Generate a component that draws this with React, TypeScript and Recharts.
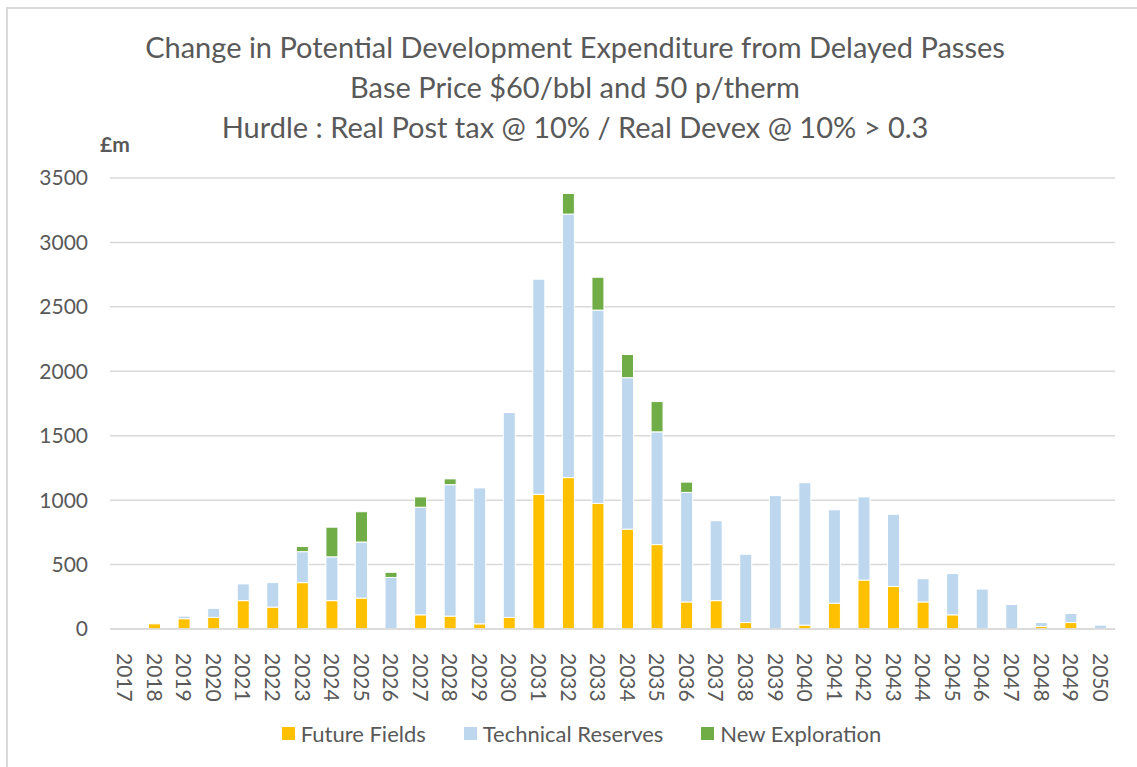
import { BarChart, Bar, XAxis, YAxis, CartesianGrid, Legend } from "recharts";

const years = [
  "2017", "2018", "2019", "2020", "2021", "2022", "2023", "2024", "2025", "2026",
  "2027", "2028", "2029", "2030", "2031", "2032", "2033", "2034", "2035", "2036",
  "2037", "2038", "2039", "2040", "2041", "2042", "2043", "2044", "2045", "2046",
  "2047", "2048", "2049", "2050",
];

const futureFields = [
  0, 40, 80, 90, 220, 170, 360, 220, 240, 0,
  110, 100, 40, 90, 1045, 1175, 975, 775, 655, 210,
  220, 50, 0, 30, 200, 380, 330, 210, 110, 0,
  0, 20, 50, 0,
];

const technicalReserves = [
  0, 0, 20, 70, 130, 190, 240, 340, 435, 400,
  835, 1020, 1055, 1590, 1670, 2045, 1500, 1175, 875, 850,
  620, 530, 1035, 1105, 725, 645, 560, 180, 320, 310,
  190, 30, 70, 30,
];

const newExploration = [
  0, 0, 0, 0, 0, 0, 40, 230, 235, 40,
  80, 45, 0, 0, 0, 160, 255, 180, 235, 80,
  0, 0, 0, 0, 0, 0, 0, 0, 0, 0,
  0, 0, 0, 0,
];

const seriesNames = ["Future Fields", "Technical Reserves", "New Exploration"];

const yTicks = [0, 500, 1000, 1500, 2000, 2500, 3000, 3500];

const titleLines = [
  "Change in Potential Development Expenditure from Delayed Passes",
  "Base Price $60/bbl and 50 p/therm",
  "Hurdle : Real Post tax @ 10% / Real Devex @ 10% > 0.3",
];

const data = years.map((year, i) => ({
  year,
  ff: futureFields[i],
  tr: technicalReserves[i],
  ne: newExploration[i],
}));

const FONT = "Lato, 'Open Sans', sans-serif";
const TEXT = "#595959";
const GRID = "#d9d9d9";

const YearTick = (props: any) => {
  const { x, y, payload } = props;
  return (
    <g transform={`translate(${x},${y})`}>
      <text
        transform="rotate(90)"
        x={0}
        y={0}
        dx={16}
        dy="0.36em"
        textAnchor="start"
        fill={TEXT}
        fontSize={21}
        fontFamily={FONT}
      >
        {payload.value}
      </text>
    </g>
  );
};

const LegendBox = (props: any) => {
  const items = [...(props.payload || [])].sort(
    (a: any, b: any) => seriesNames.indexOf(a.value) - seriesNames.indexOf(b.value)
  );
  return (
    <div
      style={{
        height: 28,
        display: "flex",
        justifyContent: "center",
        alignItems: "center",
        paddingLeft: 48,
        fontFamily: FONT,
        fontSize: 22,
        color: TEXT,
      }}
    >
      {items.map((entry: any, index: number) => (
        <div key={index} style={{ display: "flex", alignItems: "center", marginRight: index < items.length - 1 ? 38 : 0 }}>
          <div style={{ width: 13, height: 13, backgroundColor: entry.color, marginRight: 6 }} />
          <span>{entry.value}</span>
        </div>
      ))}
    </div>
  );
};

export default function App() {
  return (
    <div style={{ position: "absolute", left: 0, top: 0, width: 1137, height: 767, background: "#fff", overflow: "hidden" }}>
      <div
        style={{
          position: "absolute",
          left: 6,
          top: 7,
          width: 1200,
          height: 800,
          border: `2px solid ${GRID}`,
        }}
      />
      {titleLines.map((line, i) => (
        <div
          key={i}
          style={{
            position: "absolute",
            left: 0,
            width: 1150,
            top: 29 + i * 40,
            textAlign: "center",
            fontFamily: FONT,
            fontSize: 29,
            lineHeight: "36px",
            color: TEXT,
          }}
        >
          {line}
        </div>
      ))}
      <div
        style={{
          position: "absolute",
          left: 100,
          top: 131,
          fontFamily: FONT,
          fontSize: 21,
          fontWeight: "bold",
          color: TEXT,
        }}
      >
        £m
      </div>
      <div style={{ position: "absolute", left: 0, top: 0 }}>
        <BarChart
          width={1137}
          height={767}
          data={data}
          margin={{ top: 178, right: 22, left: 0, bottom: 20 }}
          barSize={12}
        >
          <CartesianGrid vertical={false} stroke={GRID} strokeWidth={1.5} />
          <XAxis
            dataKey="year"
            interval={0}
            height={90}
            tickLine={false}
            axisLine={{ stroke: GRID, strokeWidth: 1.5 }}
            tick={<YearTick />}
          />
          <YAxis
            width={110}
            domain={[0, 3500]}
            ticks={yTicks}
            tickLine={false}
            axisLine={false}
            tickSize={0}
            tickMargin={22}
            tick={{ fill: TEXT, fontSize: 21, fontFamily: FONT }}
          />
          <Legend verticalAlign="bottom" content={<LegendBox />} />
          <Bar dataKey="ff" name="Future Fields" stackId="a" fill="#FFC000" stroke="#fff" strokeWidth={1} isAnimationActive={false} />
          <Bar dataKey="tr" name="Technical Reserves" stackId="a" fill="#BDD7EE" stroke="#fff" strokeWidth={1} isAnimationActive={false} />
          <Bar dataKey="ne" name="New Exploration" stackId="a" fill="#70AD47" stroke="#fff" strokeWidth={1} isAnimationActive={false} />
        </BarChart>
      </div>
    </div>
  );
}
